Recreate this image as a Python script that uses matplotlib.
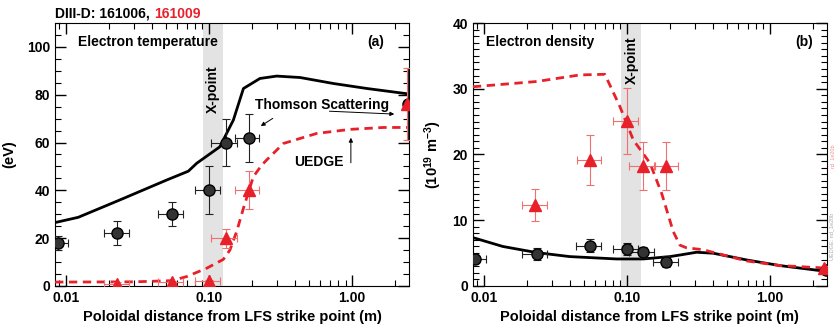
import matplotlib
matplotlib.use("Agg")
import matplotlib.pyplot as plt
from matplotlib.ticker import MultipleLocator, NullFormatter

plt.rcParams['font.family'] = ['Liberation Sans', 'DejaVu Sans']
plt.rcParams['font.weight'] = 'bold'
plt.rcParams['axes.labelweight'] = 'bold'
plt.rcParams['font.size'] = 10
plt.rcParams['mathtext.fontset'] = 'custom'
plt.rcParams['mathtext.rm'] = 'Liberation Sans:bold'
plt.rcParams['mathtext.bf'] = 'Liberation Sans:bold'
plt.rcParams['mathtext.default'] = 'bf'

RED = '#e8202a'
RED_ERR = '#f07070'

# ---- Te (panel a) ----
# Thomson, shot 161006 (black)
te_x = [0.00875, 0.0226, 0.0553, 0.100, 0.131, 0.191, 2.45]
te_y = [18, 22, 30, 40, 60, 62, 76]
te_yerr = [3, 5, 5, 10, 10, 10, 15]
te_xlo = [0.0085, 0.0184, 0.0442, 0.080, 0.104, 0.152, 2.45]
te_xhi = [0.0103, 0.0276, 0.0661, 0.119, 0.156, 0.225, 2.45]
# Thomson, shot 161009 (red)
te2_x = [0.0226, 0.0553, 0.100, 0.131, 0.191, 2.40]
te2_y = [1, 1.5, 2, 20, 40, 76]
te2_yerr = [0.5, 0.5, 0.5, 4, 8, 15]
te2_xlo = [0.0184, 0.0442, 0.080, 0.104, 0.152, 2.40]
te2_xhi = [0.0276, 0.0661, 0.119, 0.156, 0.225, 2.40]
# UEDGE
ue_te_x = [0.0084, 0.0122, 0.0239, 0.0506, 0.0717, 0.082, 0.119, 0.148,
           0.174, 0.227, 0.297, 0.433, 0.739, 1.27, 2.5]
ue_te_y = [26.5, 28.7, 36, 44.3, 48, 51.3, 58.2, 69.4, 82.6, 86.8, 87.8,
           87.2, 84.7, 82.6, 80.3]
ue_te2_x = [0.0084, 0.03, 0.055, 0.0698, 0.0964, 0.126, 0.140, 0.156, 0.174,
            0.204, 0.234, 0.253, 0.331, 0.566, 0.968, 1.66, 2.5]
ue_te2_y = [1.6, 1.7, 2.2, 3.9, 7.4, 11.1, 15, 22.7, 32.5, 45.7, 50.6, 52.7,
            59.6, 63.8, 65.5, 66.3, 66.3]

# ---- ne (panel b) ----
ne_x = [0.0087, 0.0234, 0.0551, 0.100, 0.129, 0.187, 2.45]
ne_y = [4.06, 4.8, 6.1, 5.6, 5.1, 3.7, 2.4]
ne_yerr = [0.5, 0.9, 1.0, 0.9, 0.8, 0.8, 0.5]
ne_xlo = [0.0084, 0.0186, 0.044, 0.080, 0.104, 0.152, 2.45]
ne_xhi = [0.0103, 0.0279, 0.0665, 0.120, 0.156, 0.229, 2.45]
ne2_x = [0.0230, 0.0551, 0.100, 0.130, 0.189, 2.40]
ne2_y = [12.3, 19.2, 25.1, 18.25, 18.25, 2.7]
ne2_yerr = [2.4, 3.8, 5.0, 3.6, 3.6, 0.4]
ne2_xlo = [0.0186, 0.0445, 0.080, 0.104, 0.157, 2.40]
ne2_xhi = [0.0279, 0.0665, 0.120, 0.156, 0.229, 2.40]
ue_ne_x = [0.0084, 0.0136, 0.0234, 0.0399, 0.0847, 0.130, 0.200, 0.235,
           0.307, 0.402, 0.687, 1.175, 2.5]
ue_ne_y = [7.35, 6.0, 5.07, 4.46, 4.1, 4.1, 4.46, 4.7, 5.12, 4.97, 3.95,
           3.09, 2.2]
ue_ne2_x = [0.0084, 0.0234, 0.0469, 0.0702, 0.0894, 0.111, 0.145, 0.175,
            0.211, 0.235, 0.261, 0.342, 0.402, 0.687, 1.175, 2.5]
ue_ne2_y = [30.3, 31.1, 32.1, 32.2, 27.3, 22.2, 18.7, 14.1, 8.26, 6.2, 5.8,
            5.5, 5.1, 3.8, 3.1, 2.7]

xpoint = (0.091, 0.126)
xticks = [0.01, 0.1, 1.0]
xticklabels = ['0.01', '0.10', '1.00']


def xerr(x, lo, hi):
    return [[a - b for a, b in zip(x, lo)], [b - a for a, b in zip(x, hi)]]


def style(ax, ymax, ymajor, yminor):
    ax.set_xscale('log')
    ax.set_xlim(0.0084, 2.5)
    ax.set_ylim(0, ymax)
    ax.set_xticks(xticks)
    ax.set_xticklabels(xticklabels)
    ax.xaxis.set_minor_formatter(NullFormatter())
    ax.yaxis.set_major_locator(MultipleLocator(ymajor))
    ax.yaxis.set_minor_locator(MultipleLocator(yminor))
    ax.tick_params(which='both', direction='in', top=True, right=True,
                   labelsize=10)
    ax.tick_params(which='major', length=8, width=1)
    ax.tick_params(which='minor', length=4, width=0.8)
    ax.axvspan(*xpoint, color='#e3e3e3', zorder=0, lw=0)
    ax.set_xlabel('Poloidal distance from LFS strike point (m)', fontsize=10.5,
                  labelpad=4)


fig = plt.figure(figsize=(8.34, 3.29), dpi=100)
ax1 = fig.add_axes([0.066, 0.131, 0.4245, 0.799])
ax2 = fig.add_axes([0.567, 0.131, 0.4245, 0.799])

# panel a
style(ax1, 110, 20, 5)
ax1.plot(ue_te_x, ue_te_y, color='k', lw=2, zorder=3)
ax1.plot(ue_te2_x, ue_te2_y, color=RED, lw=2, ls=(0, (3, 2)), zorder=3)
ax1.errorbar(te_x, te_y, yerr=te_yerr, xerr=xerr(te_x, te_xlo, te_xhi),
             fmt='o', ms=8, mfc='#333333', mec='k', ecolor='#222222',
             elinewidth=0.8, capsize=3, capthick=0.8, zorder=4)
ax1.errorbar(te2_x, te2_y, yerr=te2_yerr, xerr=xerr(te2_x, te2_xlo, te2_xhi),
             fmt='^', ms=8, mfc=RED, mec=RED, ecolor=RED_ERR,
             elinewidth=0.8, capsize=3, capthick=0.8, zorder=5)
ax1.set_ylabel('(eV)', fontsize=10.5, labelpad=8)
ax1.text(0.065, 0.928, 'Electron temperature', transform=ax1.transAxes,
         va='center', ha='left')
ax1.text(0.929, 0.928, '(a)', transform=ax1.transAxes, va='center', ha='right')
ax1.text(0.1066, 82.3, 'X-point', rotation=90, ha='center', va='center')
ax1.text(0.612, 75.9, 'Thomson Scattering', ha='center', va='center')
ax1.text(0.587, 51.9, 'UEDGE', ha='center', va='center')
arrow = dict(arrowstyle='-|>', lw=0.7, color='k', mutation_scale=6,
             shrinkA=0, shrinkB=0)
ax1.annotate('', xy=(0.230, 66.9), xytext=(0.279, 70.1), arrowprops=arrow)
ax1.annotate('', xy=(1.97, 71.9), xytext=(0.694, 73.1), arrowprops=arrow)
ax1.annotate('', xy=(0.98, 62.0), xytext=(0.98, 51.5), arrowprops=arrow)

# panel b
style(ax2, 40, 10, 1)
ax2.plot(ue_ne_x, ue_ne_y, color='k', lw=2, zorder=3)
ax2.plot(ue_ne2_x, ue_ne2_y, color=RED, lw=2, ls=(0, (3, 2)), zorder=3)
ax2.errorbar(ne_x, ne_y, yerr=ne_yerr, xerr=xerr(ne_x, ne_xlo, ne_xhi),
             fmt='o', ms=8, mfc='#333333', mec='k', ecolor='#222222',
             elinewidth=0.8, capsize=3, capthick=0.8, zorder=4)
ax2.errorbar(ne2_x, ne2_y, yerr=ne2_yerr, xerr=xerr(ne2_x, ne2_xlo, ne2_xhi),
             fmt='^', ms=8, mfc=RED, mec=RED, ecolor=RED_ERR,
             elinewidth=0.8, capsize=3, capthick=0.8, zorder=5)
ax2.set_ylabel('(10$^{19}$ m$^{-3}$)', fontsize=10.5, labelpad=6)
ax2.text(0.037, 0.928, 'Electron density', transform=ax2.transAxes,
         va='center', ha='left')
ax2.text(0.96, 0.928, '(b)', transform=ax2.transAxes, va='center', ha='right')
ax2.text(0.109, 34.3, 'X-point', rotation=90, ha='center', va='center')
ax2.text(1.008, 0.1, 'UEDGE: nd_1e20b', transform=ax2.transAxes,
         rotation=90, fontsize=4, color='#aaaaaa', weight='normal',
         ha='left', va='bottom')
ax2.text(1.008, 0.45, 'nd_1e20b', transform=ax2.transAxes,
         rotation=90, fontsize=4, color='#f09090', weight='normal',
         ha='left', va='bottom')

# header with coloured shot number
t = fig.text(0.066, 0.958, 'DIII-D: 161006, ', ha='left', va='center')
fig.canvas.draw()
bb = t.get_window_extent(fig.canvas.get_renderer())
fig.text(bb.x1 / fig.bbox.width, 0.958, '161009', ha='left', va='center',
         color=RED)

fig.savefig('out.png', dpi=100)
